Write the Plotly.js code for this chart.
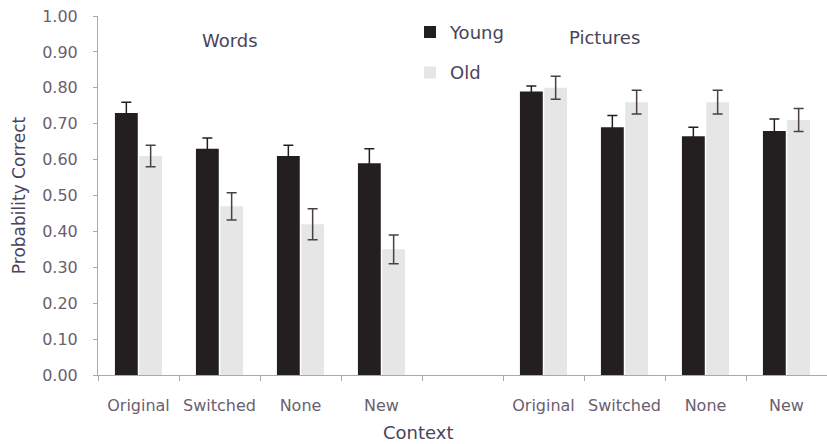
<!DOCTYPE html>
<html>
<head>
<meta charset="utf-8">
<script src="https://cdn.plot.ly/plotly-3.0.1.min.js"></script>
<style>html,body{margin:0;padding:0;background:#fff;}#chart{width:827px;height:444px;}</style>
</head>
<body>
<div id="chart"></div>
<script>
// Category keys (unique) and their displayed tick labels
const categoryKeys = ["W-Original", "W-Switched", "W-None", "W-New", "gap", "P-Original", "P-Switched", "P-None", "P-New"];
const tickLabels = ["Original", "Switched", "None", "New", "", "Original", "Switched", "None", "New"];
const groupLabels = ["Words", "Pictures"];

// Probability correct (means) and error bar half-lengths
const youngValues = [0.73, 0.63, 0.61, 0.59, null, 0.79, 0.69, 0.665, 0.68];
const youngErrors = [0.03, 0.03, 0.03, 0.04, null, 0.015, 0.033, 0.025, 0.033];
const oldValues = [0.61, 0.47, 0.42, 0.35, null, 0.80, 0.76, 0.76, 0.71];
const oldErrors = [0.03, 0.038, 0.043, 0.04, null, 0.032, 0.033, 0.033, 0.032];

const yTicks = [0, 0.1, 0.2, 0.3, 0.4, 0.5, 0.6, 0.7, 0.8, 0.9, 1.0];

const FONT = "DejaVu Sans, sans-serif";
const TEXT = "#4a4458";
const TICKTEXT = "#6a6070";

const traces = [
  {
    type: "bar", name: "Young", x: categoryKeys, y: youngValues,
    marker: {color: "#231f20"},
    legendgroup: "young",
    error_y: {type: "data", array: youngErrors, visible: true, color: "#231f20", thickness: 1.5, width: 5}
  },
  {
    type: "bar", name: "Old", x: categoryKeys, y: oldValues,
    marker: {color: "#e6e6e6"},
    legendgroup: "old",
    error_y: {type: "data", array: oldErrors, visible: true, color: "#4a4040", thickness: 1.5, width: 5}
  }
];

const layout = {
  width: 827, height: 444,
  margin: {l: 98, r: 0, t: 16, b: 69},
  paper_bgcolor: "#ffffff", plot_bgcolor: "#ffffff",
  font: {family: FONT, color: TEXT},
  barmode: "group", bargap: 0.4, bargroupgap: 0.06,
  showlegend: true,
  legend: {
    x: 0.428, y: 1.006, xanchor: "left", yanchor: "top",
    traceorder: "grouped", tracegroupgap: 14,
    font: {family: FONT, size: 18, color: TEXT},
    bgcolor: "rgba(0,0,0,0)"
  },
  xaxis: {
    type: "category",
    categoryorder: "array", categoryarray: categoryKeys,
    tickmode: "array", tickvals: categoryKeys, ticktext: tickLabels,
    tickson: "boundaries", ticks: "outside", ticklen: 5, tickcolor: "#aaaaaa",
    tickangle: 0, ticklabelstandoff: 16,
    showline: true, linecolor: "#aaaaaa", linewidth: 1,
    showgrid: false, zeroline: false,
    tickfont: {family: FONT, size: 16, color: TICKTEXT},
    fixedrange: true
  },
  yaxis: {
    range: [0, 1.0],
    tickmode: "array", tickvals: yTicks, tickformat: ".2f",
    ticks: "outside", ticklen: 4, tickcolor: "#aaaaaa",
    ticklabelstandoff: 12,
    showline: true, linecolor: "#aaaaaa", linewidth: 1,
    showgrid: false, zeroline: false,
    tickfont: {family: FONT, size: 16, color: TICKTEXT},
    title: {text: "Probability Correct", font: {family: FONT, size: 17, color: TEXT}, standoff: 12},
    fixedrange: true
  },
  annotations: [
    {text: groupLabels[0], xref: "paper", yref: "paper", x: 0.181, y: 0.933, xanchor: "center", yanchor: "middle", showarrow: false,
     font: {family: FONT, size: 18, color: TEXT}},
    {text: groupLabels[1], xref: "paper", yref: "paper", x: 0.695, y: 0.941, xanchor: "center", yanchor: "middle", showarrow: false,
     font: {family: FONT, size: 18, color: TEXT}},
    {text: "Context", xref: "paper", yref: "paper", x: 0.439, y: -0.16, xanchor: "center", yanchor: "middle", showarrow: false,
     font: {family: FONT, size: 18, color: TEXT}}
  ]
};

Plotly.newPlot("chart", traces, layout, {displayModeBar: false, staticPlot: true});
</script>
</body>
</html>
